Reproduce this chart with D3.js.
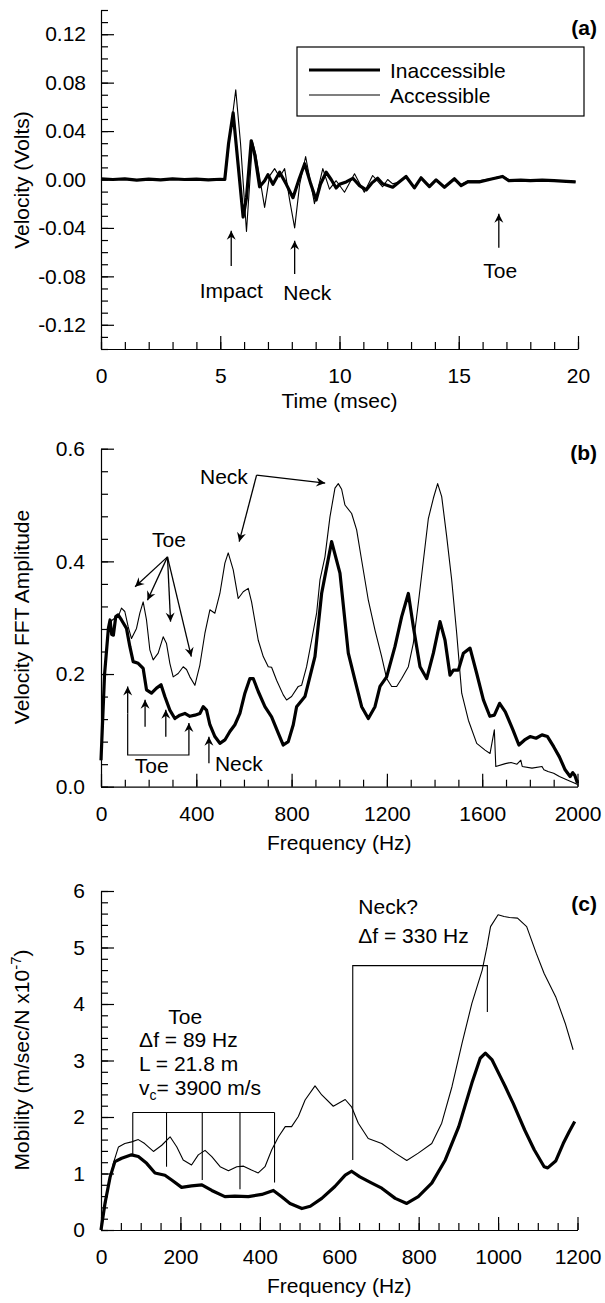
<!DOCTYPE html>
<html>
<head>
<meta charset="utf-8">
<script src="https://cdn.jsdelivr.net/npm/d3@7"></script>
<style>
body { margin: 0; background: #fff; }
svg { display: block; font-family: "Liberation Sans", Arial, sans-serif; }
</style>
</head>
<body>
<div id="chart"></div>
<script>
// ---- panel (a): velocity vs time, [msec, volts]
const velInaccessible = [[0,0.0005],[0.5,0],[1,0.0005],[1.5,-0.0005],[2,0.0003],[2.5,-0.0003],[3,0.0005],[3.5,0],[4,0.0003],[4.5,-0.0003],[5,0.0002],[5.19,0],[5.35,0.03],[5.54,0.055],[5.75,0.012],[5.96,-0.031],[6.1,-0.015],[6.3,0.032],[6.45,0.02],[6.65,-0.006],[6.86,-0.001],[7.0,0.004],[7.21,-0.004],[7.49,0.006],[7.77,-0.004],[8.05,-0.015],[8.3,0],[8.54,0.013],[8.8,-0.004],[9.02,-0.017],[9.2,-0.004],[9.44,0.006],[9.65,0],[9.86,-0.007],[10.0,-0.004],[10.28,-0.002],[10.56,0.001],[10.84,-0.005],[11.12,-0.0086],[11.35,-0.003],[11.6,0.001],[11.81,-0.0036],[12.23,-0.0064],[12.5,-0.002],[12.79,0.0025],[13.14,-0.0069],[13.42,0.0014],[13.77,-0.0058],[14.05,-0.0003],[14.4,-0.0064],[14.82,0.0006],[15.1,-0.005],[15.38,-0.002],[15.86,-0.002],[16.42,0.0006],[16.84,0.0025],[17.1,-0.001],[17.6,-0.0005],[18,-0.001],[18.5,-0.0005],[19,-0.001],[19.5,-0.0015],[19.9,-0.002]];
const velAccessible = [[0,0],[0.5,0.0003],[1,0],[1.5,-0.0003],[2,0.0002],[2.5,0],[3,0.0003],[3.5,0.0002],[4,0],[4.5,0],[5,0.0002],[5.2,0],[5.4,0.035],[5.65,0.074],[5.85,0.03],[6.1,-0.043],[6.35,0.031],[6.49,0.021],[6.65,0.002],[6.86,-0.023],[7.07,0.003],[7.28,0.009],[7.49,0.002],[7.7,0.009],[7.91,-0.017],[8.12,-0.04],[8.33,-0.004],[8.58,0.019],[8.82,-0.006],[8.95,-0.02],[9.3,0.009],[9.58,-0.008],[9.86,-0.001],[10.21,-0.0105],[10.63,0.0047],[11.04,-0.0105],[11.39,0.0033],[11.81,-0.006],[12.02,0],[12.23,-0.0036],[12.5,-0.002],[12.79,0.002],[13.14,-0.006],[13.42,0.001],[13.77,-0.005],[14.05,0],[14.4,-0.006],[14.82,0],[15.1,-0.004],[15.38,-0.001],[15.86,-0.001],[16.42,0.001],[16.84,0.003],[17.1,0],[17.6,-0.0005],[18,-0.001],[18.5,-0.0005],[19,-0.001],[19.5,-0.0015],[19.9,-0.002]];

// ---- panel (b): FFT amplitude vs frequency, [Hz, amplitude]
const fftInaccessible = [[0,0.047],[15,0.2],[31,0.281],[38,0.296],[45,0.27],[52,0.269],[62,0.302],[72,0.305],[86,0.296],[107,0.281],[121,0.249],[135,0.222],[156,0.219],[177,0.21],[191,0.172],[212,0.166],[233,0.175],[252,0.181],[268,0.16],[289,0.136],[310,0.121],[331,0.127],[352,0.13],[373,0.125],[394,0.127],[415,0.13],[429,0.142],[443,0.136],[457,0.11],[478,0.089],[499,0.077],[520,0.083],[541,0.098],[562,0.11],[583,0.13],[604,0.166],[625,0.192],[639,0.192],[660,0.169],[688,0.142],[716,0.124],[744,0.095],[765,0.074],[786,0.08],[807,0.11],[821,0.142],[856,0.16],[898,0.231],[926,0.343],[968,0.435],[1003,0.379],[1038,0.237],[1066,0.189],[1094,0.142],[1122,0.121],[1150,0.142],[1171,0.178],[1199,0.195],[1234,0.249],[1262,0.302],[1290,0.343],[1311,0.284],[1339,0.213],[1367,0.192],[1395,0.237],[1423,0.293],[1444,0.26],[1465,0.198],[1479,0.207],[1500,0.207],[1521,0.237],[1549,0.246],[1577,0.201],[1605,0.154],[1632,0.125],[1651,0.127],[1673,0.148],[1697,0.133],[1729,0.101],[1754,0.074],[1778,0.083],[1801,0.089],[1826,0.086],[1851,0.092],[1874,0.089],[1900,0.071],[1924,0.053],[1948,0.03],[1969,0.018],[1980,0.025],[1989,0.02],[2000,0.006]];
const fftAccessible = [[0,0.047],[15,0.2],[31,0.28],[45,0.295],[60,0.3],[75,0.305],[86,0.317],[100,0.311],[114,0.284],[128,0.263],[149,0.281],[163,0.308],[177,0.328],[191,0.296],[205,0.243],[219,0.225],[240,0.237],[261,0.266],[275,0.254],[289,0.219],[303,0.195],[324,0.201],[345,0.213],[359,0.208],[373,0.195],[394,0.18],[415,0.216],[436,0.272],[457,0.314],[478,0.308],[499,0.343],[520,0.397],[534,0.415],[555,0.385],[576,0.334],[597,0.346],[618,0.352],[632,0.328],[660,0.26],[681,0.231],[702,0.213],[716,0.212],[737,0.189],[765,0.163],[779,0.154],[800,0.16],[828,0.178],[842,0.18],[863,0.213],[884,0.26],[905,0.308],[919,0.367],[940,0.408],[961,0.479],[982,0.53],[996,0.538],[1010,0.528],[1024,0.5],[1052,0.485],[1073,0.456],[1094,0.402],[1122,0.331],[1150,0.278],[1178,0.231],[1199,0.192],[1220,0.178],[1241,0.178],[1262,0.192],[1290,0.213],[1311,0.255],[1332,0.326],[1360,0.426],[1374,0.476],[1395,0.512],[1413,0.538],[1430,0.515],[1451,0.444],[1472,0.367],[1493,0.272],[1514,0.166],[1542,0.118],[1577,0.077],[1612,0.065],[1633,0.059],[1651,0.101],[1657,0.036],[1697,0.041],[1721,0.043],[1746,0.04],[1762,0.047],[1768,0.036],[1809,0.033],[1851,0.036],[1859,0.03],[1876,0.027],[1900,0.024],[1924,0.018],[1957,0.012],[1989,0.006],[2000,0.004]];

// ---- panel (c): mobility vs frequency, [Hz, m/sec/N x10-7]
const mobInaccessible = [[0,0],[10,0.47],[23,0.94],[35,1.21],[52,1.27],[77,1.33],[94,1.3],[115,1.18],[136,1.01],[161,0.97],[178,0.885],[203,0.755],[228,0.78],[254,0.8],[279,0.7],[312,0.59],[337,0.6],[371,0.59],[405,0.63],[434,0.7],[455,0.59],[476,0.47],[506,0.38],[527,0.42],[556,0.56],[589,0.77],[615,0.97],[631,1.04],[652,0.94],[682,0.83],[707,0.74],[741,0.56],[770,0.47],[799,0.59],[833,0.83],[867,1.24],[901,1.83],[934,2.6],[955,3.04],[968,3.13],[985,3.01],[1006,2.71],[1018,2.54],[1038,2.24],[1067,1.77],[1091,1.42],[1116,1.12],[1125,1.1],[1145,1.22],[1164,1.53],[1179,1.74],[1193,1.92]];
const mobAccessible = [[0,0],[19,0.77],[31,1.18],[44,1.47],[60,1.53],[77,1.56],[94,1.6],[110,1.53],[132,1.39],[153,1.5],[174,1.65],[191,1.47],[207,1.24],[228,1.15],[245,1.33],[262,1.41],[279,1.3],[300,1.12],[321,1.05],[342,1.12],[359,1.13],[379,1.06],[396,1.01],[413,1.12],[430,1.42],[447,1.65],[464,1.83],[480,1.83],[497,2.01],[514,2.3],[539,2.55],[556,2.39],[585,2.19],[615,2.31],[631,2.18],[648,1.89],[673,1.62],[707,1.53],[741,1.36],[770,1.23],[799,1.36],[833,1.53],[858,1.89],[884,2.54],[909,3.3],[934,4.01],[960,4.6],[972,5.01],[981,5.37],[1000,5.58],[1015,5.55],[1029,5.53],[1049,5.52],[1072,5.37],[1096,4.9],[1116,4.54],[1145,4.13],[1169,3.66],[1189,3.19]];

// toe resonance markers in (c), Hz and where each line stops
const toeFreqs = [80, 165, 255, 350, 437];
const toeStops = [1.33, 1.12, 0.885, 0.72, 0.84];
// lower toe arrows in (b), Hz
const toeArrowFreqs = [112, 185, 272, 369];
const toeArrowBase = [0.13, 0.1065, 0.0888, 0.065];

const W = 605, H = 1303;
const FONT = 21;

const svg = d3.select('#chart').append('svg')
    .attr('width', W)
    .attr('height', H);

svg.append('rect').attr('width', W).attr('height', H).attr('fill', '#fff');

const defs = svg.append('defs');
defs.append('marker')
    .attr('id', 'head')
    .attr('viewBox', '-10 -6 12 12')
    .attr('refX', 0).attr('refY', 0)
    .attr('markerWidth', 12).attr('markerHeight', 12)
    .attr('markerUnits', 'userSpaceOnUse')
    .attr('orient', 'auto')
    .append('path')
    .attr('d', 'M-9,-4.5 L0,0 L-9,4.5 L-6,0 Z')
    .attr('fill', '#000');

function drawAxes(x, y, o) {
    const y0 = y.range()[0], x0 = x.range()[0];
    // minor ticks first, no labels
    svg.append('g').attr('transform', `translate(0,${y0})`)
        .call(d3.axisBottom(x).tickValues(o.xMinor).tickSize(-7).tickFormat(''))
        .call(g => g.select('.domain').remove());
    svg.append('g').attr('transform', `translate(${x0},0)`)
        .call(d3.axisLeft(y).tickValues(o.yMinor).tickSize(-7).tickFormat(''))
        .call(g => g.select('.domain').remove());

    const xa = svg.append('g').attr('transform', `translate(0,${y0})`)
        .call(d3.axisBottom(x).tickValues(o.xMajor).tickSize(-13).tickSizeOuter(0)
            .tickPadding(19).tickFormat(o.xFmt));
    const ya = svg.append('g').attr('transform', `translate(${x0},0)`)
        .call(d3.axisLeft(y).tickValues(o.yMajor).tickSize(-13).tickSizeOuter(0)
            .tickPadding(o.yPad).tickFormat(o.yFmt));
    [xa, ya].forEach(a => {
        a.attr('font-size', FONT).attr('font-family', null);
        a.selectAll('line, path').attr('stroke', '#000').attr('stroke-width', 1.2);
        a.selectAll('text').attr('fill', '#000');
    });
    svg.selectAll('.tick line').attr('stroke-width', 1.2);
}

function addText(x, y, str, anchor, opts) {
    const t = svg.append('text')
        .attr('x', x).attr('y', y)
        .attr('text-anchor', anchor || 'start')
        .attr('font-size', (opts && opts.size) || FONT)
        .text(str);
    if (opts && opts.bold) t.attr('font-weight', 'bold');
    return t;
}

function arrow(x1, y1, x2, y2) {
    svg.append('line')
        .attr('x1', x1).attr('y1', y1).attr('x2', x2).attr('y2', y2)
        .attr('stroke', '#000').attr('stroke-width', 1.3)
        .attr('marker-end', 'url(#head)');
}

function drawLine(x, y, data, width) {
    svg.append('path')
        .datum(data)
        .attr('fill', 'none')
        .attr('stroke', '#000')
        .attr('stroke-width', width)
        .attr('stroke-linejoin', 'round')
        .attr('d', d3.line().x(d => x(d[0])).y(d => y(d[1])));
}

function yTitle(cy, str) {
    return svg.append('text')
        .attr('transform', `translate(29,${cy}) rotate(-90)`)
        .attr('text-anchor', 'middle')
        .attr('font-size', FONT)
        .text(str);
}

// ================= panel (a)
const xA = d3.scaleLinear().domain([0, 20]).range([101, 578]);
const yA = d3.scaleLinear().domain([-0.14, 0.14]).range([349, 10]);

drawAxes(xA, yA, {
    xMinor: d3.range(0, 21, 1),
    xMajor: [0, 5, 10, 15, 20],
    yMinor: d3.range(-14, 15).map(d => d / 100),
    yMajor: [-0.12, -0.08, -0.04, 0, 0.04, 0.08, 0.12],
    xFmt: d => d,
    yFmt: d => d.toFixed(2),
    yPad: 15
});

drawLine(xA, yA, velAccessible, 1.1);
drawLine(xA, yA, velInaccessible, 3.2);

addText((xA(0) + xA(20)) / 2, 408, 'Time (msec)', 'middle');
yTitle(180, 'Velocity (Volts)');
addText(597, 35, '(a)', 'end', {bold: true});

// legend
const leg = svg.append('g');
leg.append('rect')
    .attr('x', 297).attr('y', 47).attr('width', 287).attr('height', 69)
    .attr('fill', '#fff').attr('stroke', '#000').attr('stroke-width', 1.2);
[['Inaccessible', 3.2, 70], ['Accessible', 1.1, 95]].forEach(([name, w, ly]) => {
    leg.append('line').attr('x1', 309).attr('x2', 380).attr('y1', ly).attr('y2', ly)
        .attr('stroke', '#000').attr('stroke-width', w);
    leg.append('text').attr('x', 390).attr('y', ly + 7.5)
        .attr('font-size', FONT).text(name);
});

// annotations (a)
arrow(xA(5.46), yA(-0.0714), xA(5.46), yA(-0.0423));
addText(xA(5.46), yA(-0.098), 'Impact', 'middle');
arrow(xA(8.12), yA(-0.078), xA(8.12), yA(-0.0506));
addText(xA(8.65), yA(-0.0996), 'Neck', 'middle');
arrow(xA(16.68), yA(-0.0564), xA(16.68), yA(-0.0282));
addText(xA(16.74), yA(-0.0813), 'Toe', 'middle');

// ================= panel (b)
const xB = d3.scaleLinear().domain([0, 2000]).range([101, 577.5]);
const yB = d3.scaleLinear().domain([0, 0.6]).range([786.7, 448.7]);

drawAxes(xB, yB, {
    xMinor: d3.range(0, 2001, 100),
    xMajor: d3.range(0, 2001, 400),
    yMinor: d3.range(0, 16).map(i => i * 0.04),
    yMajor: [0, 0.2, 0.4, 0.6],
    xFmt: d => d,
    yFmt: d => d.toFixed(1),
    yPad: 16
});

drawLine(xB, yB, fftAccessible, 1.1);
drawLine(xB, yB, fftInaccessible, 3.2);

addText((xB(0) + xB(2000)) / 2, 850, 'Frequency (Hz)', 'middle');
yTitle(617, 'Velocity FFT Amplitude');
addText(597, 460, '(b)', 'end', {bold: true});

// annotations (b)
addText(xB(516), yB(0.537), 'Neck', 'middle');
arrow(xB(653), yB(0.553), xB(941), yB(0.539));
arrow(xB(653), yB(0.553), xB(580), yB(0.435));
addText(xB(285), yB(0.4255), 'Toe', 'middle');
[[143, 0.355], [195, 0.331], [292, 0.293], [379, 0.231]].forEach(([f, v]) => {
    arrow(xB(279), yB(0.408), xB(f), yB(v));
});
toeArrowFreqs.forEach((f, i) => {
    arrow(xB(f), yB(toeArrowBase[i]), xB(f), yB(toeArrowBase[i] + 0.048));
});
svg.append('path')
    .attr('d', d3.line()([[xB(112), yB(0.13)], [xB(112), yB(0.0563)], [xB(369), yB(0.0563)], [xB(369), yB(0.065)]]))
    .attr('fill', 'none').attr('stroke', '#000').attr('stroke-width', 1.2);
addText(xB(213), yB(0.0243), 'Toe', 'middle');
arrow(xB(453), yB(0.0415), xB(453), yB(0.0888));
addText(xB(478), yB(0.0279), 'Neck', 'start');

// ================= panel (c)
const xC = d3.scaleLinear().domain([0, 1200]).range([101, 577.5]);
const yC = d3.scaleLinear().domain([0, 6]).range([1230, 891]);

drawAxes(xC, yC, {
    xMinor: d3.range(0, 1201, 50),
    xMajor: d3.range(0, 1201, 200),
    yMinor: d3.range(0, 31).map(i => i * 0.2),
    yMajor: d3.range(0, 7),
    xFmt: d => d,
    yFmt: d => d,
    yPad: 16
});

drawLine(xC, yC, mobAccessible, 1.1);
drawLine(xC, yC, mobInaccessible, 3.2);

addText((xC(0) + xC(1200)) / 2, 1293, 'Frequency (Hz)', 'middle');
const ct = yTitle(1060, 'Mobility (m/sec/N x10');
ct.append('tspan').attr('dy', -8).attr('font-size', 15).text('-7');
ct.append('tspan').attr('dy', 8).text(')');
addText(597, 911, '(c)', 'end', {bold: true});

// Neck? bracket
svg.append('path')
    .attr('d', d3.line()([[xC(634), yC(1.24)], [xC(634), yC(4.68)], [xC(973), yC(4.68)], [xC(973), yC(3.86)]]))
    .attr('fill', 'none').attr('stroke', '#000').attr('stroke-width', 1.1);
addText(xC(648), yC(5.6), 'Neck?', 'start');
addText(xC(648), yC(5.08), '\u0394f = 330 Hz', 'start');

// Toe bracket
svg.append('line')
    .attr('x1', xC(toeFreqs[0])).attr('x2', xC(toeFreqs[toeFreqs.length - 1]))
    .attr('y1', yC(2.08)).attr('y2', yC(2.08))
    .attr('stroke', '#000').attr('stroke-width', 1.1);
toeFreqs.forEach((f, i) => {
    svg.append('line')
        .attr('x1', xC(f)).attr('x2', xC(f))
        .attr('y1', yC(2.08)).attr('y2', yC(toeStops[i]))
        .attr('stroke', '#000').attr('stroke-width', 1.1);
});
addText(xC(212), yC(3.65), 'Toe', 'middle');
addText(xC(96), yC(3.24), '\u0394f = 89 Hz', 'start');
addText(xC(96), yC(2.81), 'L = 21.8 m', 'start');
const vc = addText(xC(96), yC(2.39), 'v', 'start');
vc.append('tspan').attr('dy', 5).attr('font-size', 14).text('c');
vc.append('tspan').attr('dy', -5).text('= 3900 m/s');
</script>
</body>
</html>
